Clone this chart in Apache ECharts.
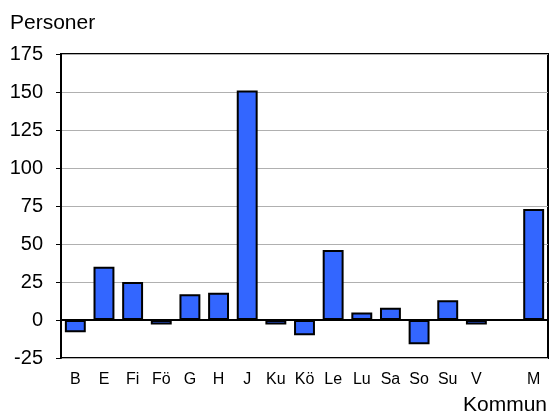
<!DOCTYPE html>
<html>
<head>
<meta charset="utf-8">
<script src="https://cdn.jsdelivr.net/npm/echarts@6/dist/echarts.min.js"></script>
<style>
  html, body { margin: 0; padding: 0; background: #fff; }
  #chart { width: 549px; height: 414px; }
</style>
</head>
<body>
<div id="chart"></div>
<script>
var kommuner = ['B', 'E', 'Fi', 'Fö', 'G', 'H', 'J', 'Ku', 'Kö', 'Le', 'Lu', 'Sa', 'So', 'Su', 'V', '', 'M'];
var personer = [-8, 35, 25, -3, 17, 18, 151, -3, -10, 46, 5, 8, -16, 13, -3, '-', 73];
var yTicks = [-25, 0, 25, 50, 75, 100, 125, 150, 175];

var chart = echarts.init(document.getElementById('chart'));
var font = 'Liberation Sans, Arial, sans-serif';

chart.setOption({
    backgroundColor: '#fff',
    animation: false,
    textStyle: { fontFamily: font },
    grid: {
        left: 61, right: 1, top: 54, bottom: 56,
        show: true, borderColor: '#000', borderWidth: 2
    },
    xAxis: {
        type: 'category',
        data: kommuner,
        axisLine: { show: false },
        axisTick: { show: false },
        axisLabel: { color: '#000', fontSize: 16, margin: 14, interval: 0 }
    },
    yAxis: {
        type: 'value',
        min: yTicks[0],
        max: yTicks[yTicks.length - 1],
        interval: 25,
        axisLine: { show: true, lineStyle: { color: '#000', width: 2 } },
        axisTick: { show: true, length: 5, lineStyle: { color: '#000', width: 1 } },
        axisLabel: { color: '#000', fontSize: 20, margin: 18 },
        splitLine: { lineStyle: { color: '#b0b0b0', width: 1 } }
    },
    graphic: [
        { type: 'text', left: 10, top: 13, style: { text: 'Personer', fill: '#000', font: '21px ' + font } },
        { type: 'text', left: 463, top: 395, style: { text: 'Kommun', fill: '#000', font: '21px ' + font } }
    ],
    series: [{
        type: 'bar',
        data: personer,
        barCategoryGap: '27%',
        itemStyle: { color: '#3366ff', borderColor: '#000', borderWidth: 2 },
        markLine: {
            silent: true,
            symbol: 'none',
            label: { show: false },
            lineStyle: { color: '#000', width: 2, type: 'solid' },
            data: [{ yAxis: 0 }]
        }
    }]
});
</script>
</body>
</html>
